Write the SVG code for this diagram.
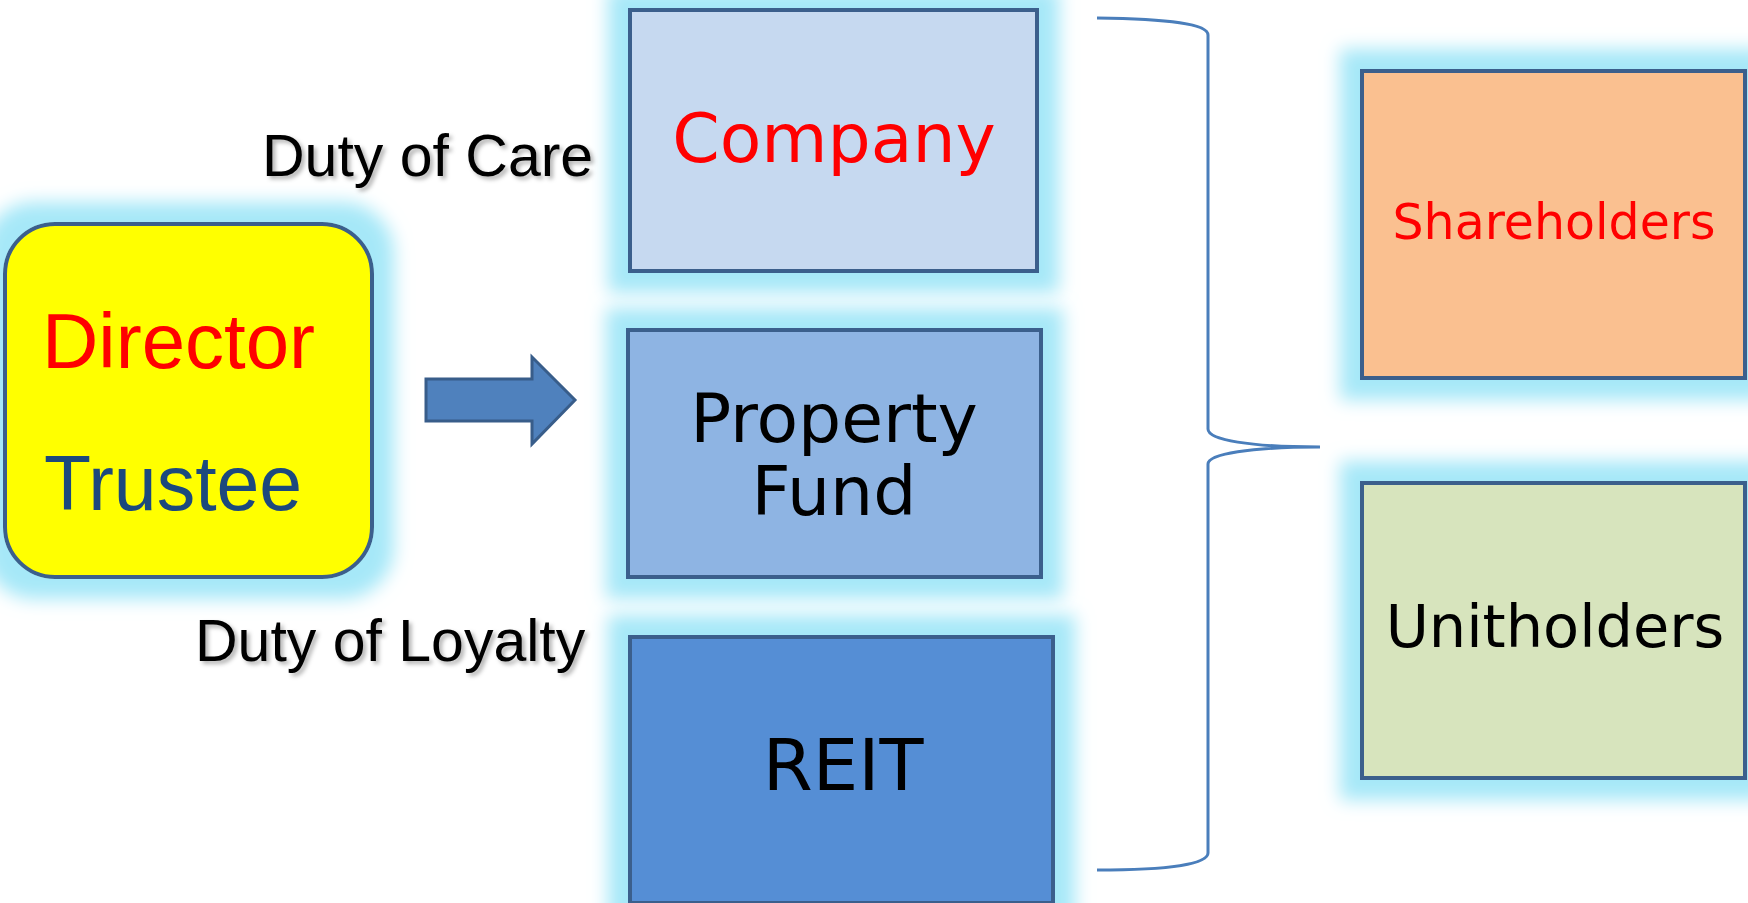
<svg xmlns="http://www.w3.org/2000/svg" width="1748" height="903" viewBox="0 0 1748 903">
<defs>
<filter id="glow" x="-30%" y="-30%" width="160%" height="160%">
<feMorphology in="SourceAlpha" operator="dilate" radius="20" result="d"/>
<feGaussianBlur in="d" stdDeviation="9" result="b"/>
<feFlood flood-color="#a6e8f8"/>
<feComposite in2="b" operator="in" result="g"/>
<feMerge><feMergeNode in="g"/><feMergeNode in="SourceGraphic"/></feMerge>
</filter>
<filter id="tshadow" x="-10%" y="-30%" width="120%" height="160%">
<feDropShadow dx="3" dy="3" stdDeviation="2" flood-color="#000" flood-opacity="0.3"/>
</filter>
</defs>
<style>
.box{stroke:#3b5e8c;stroke-width:4}
.sans{font-family:"DejaVu Sans","Verdana",sans-serif}
.arial{font-family:"Liberation Sans",Arial,sans-serif}
.lbl{font-family:"Liberation Sans",Arial,sans-serif;font-size:59px;fill:#000;filter:url(#tshadow)}
</style>
<rect width="1748" height="903" fill="#fff"/>
<g id="director" filter="url(#glow)">
<rect class="box" x="5" y="224" width="367" height="353" rx="50" fill="#ffff00"/>
<text class="arial" x="42" y="368" font-size="78" fill="#ff0000">Director</text>
<text class="arial" x="44" y="510" font-size="77" fill="#1f497d">Trustee</text>
</g>
<g id="company" filter="url(#glow)">
<rect class="box" x="630" y="10" width="407" height="261" fill="#c6d9f0"/>
<text class="sans" x="834" y="162" font-size="68" fill="#ff0000" text-anchor="middle">Company</text>
</g>
<g id="property-fund" filter="url(#glow)">
<rect class="box" x="628" y="330" width="413" height="247" fill="#8eb4e3"/>
<text class="sans" x="834" y="442" font-size="68" fill="#000" text-anchor="middle">Property</text>
<text class="sans" x="834" y="515" font-size="68" fill="#000" text-anchor="middle">Fund</text>
</g>
<g id="reit" filter="url(#glow)">
<rect class="box" x="630" y="637" width="423" height="266" fill="#558ed5"/>
<text class="sans" x="843" y="790" font-size="72" fill="#000" text-anchor="middle">REIT</text>
</g>
<g id="shareholders" filter="url(#glow)">
<rect class="box" x="1362" y="71" width="383" height="307" fill="#fac090"/>
<text class="sans" x="1554" y="239" font-size="49" fill="#ff0000" text-anchor="middle">Shareholders</text>
</g>
<g id="unitholders" filter="url(#glow)">
<rect class="box" x="1362" y="483" width="383" height="295" fill="#d7e4bd"/>
<text class="sans" x="1555" y="647" font-size="59" fill="#000" text-anchor="middle">Unitholders</text>
</g>
<g id="duty-care"><text class="lbl" x="262" y="176">Duty of Care</text></g>
<g id="duty-loyalty"><text class="lbl" x="195" y="661">Duty of Loyalty</text></g>
<g id="connectors">
<path d="M426,379 L532,379 L532,357 L575,400 L532,444 L532,421 L426,421 Z" fill="#4f81bd" stroke="#385d8a" stroke-width="3"/>
<path d="M1097,18 C1170,19 1208,24 1208,35 L1208,429 C1208,440 1250,447 1320,447 C1250,447 1208,454 1208,464 L1208,853 C1208,864 1170,870 1097,870" fill="none" stroke="#4a7ebb" stroke-width="3"/>
</g>
</svg>
